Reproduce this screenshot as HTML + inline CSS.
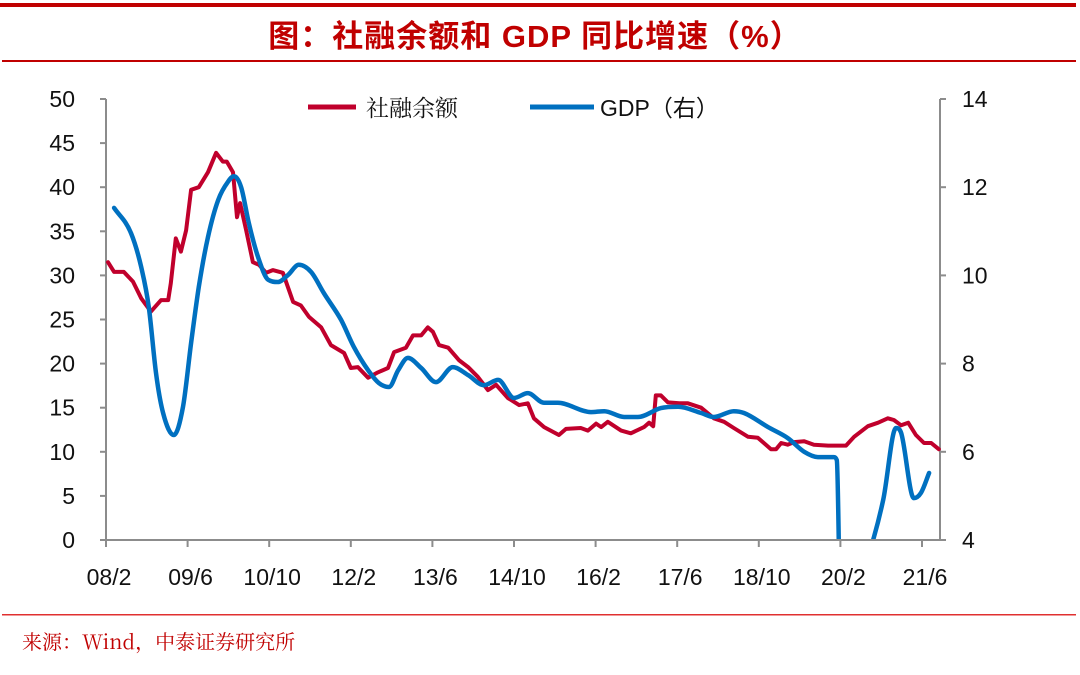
<!DOCTYPE html>
<html><head><meta charset="utf-8">
<style>
html,body{margin:0;padding:0;background:#fff;}
body{width:1080px;height:670px;overflow:hidden;position:relative;font-family:"Liberation Sans","Noto Sans CJK SC",sans-serif;}
</style></head>
<body>
<svg id="chart" width="1080" height="670" xmlns="http://www.w3.org/2000/svg">
<defs><clipPath id="plotclip"><rect x="106" y="89" width="834" height="450"/></clipPath></defs>
<rect x="0" y="3" width="1076" height="4" fill="#c00000"/>
<rect x="2" y="60" width="1074" height="2" fill="#c00000"/>
<text x="535" y="47" text-anchor="middle" font-size="31" font-weight="bold" fill="#c00000" letter-spacing="1" font-family="'Liberation Sans','Noto Sans CJK SC',sans-serif">图：社融余额和 GDP 同比增速（%）</text>
<rect x="2" y="614" width="1074" height="1.5" fill="#e03030"/>
<text x="22" y="649" font-size="20" fill="#c00000" font-family="'Noto Serif CJK SC',serif">来源：Wind，中泰证券研究所</text>
<g id="axes"></g>
<g id="series"></g>
<g>
<line x1="308" y1="107" x2="356" y2="107" stroke="#c0002c" stroke-width="5"/>
<text x="366" y="116" font-size="23" fill="#111" font-family="'Liberation Serif','Noto Serif CJK SC',serif">社融余额</text>
<line x1="530" y1="107" x2="594" y2="107" stroke="#0070c0" stroke-width="5"/>
<text x="600" y="116" font-size="23" fill="#111">GDP（右）</text>
</g>
</svg>
<script>
// months since 2008-02
const tsfMonths=[0.2,1.4,3.3,5.1,6.7,8.6,10.6,12.0,12.5,13.5,14.5,15.5,16.5,18.0,19.8,21.4,22.7,23.5,24.7,25.5,26.1,27.3,28.6,29.8,31.2,32.5,34.5,36.5,38.0,39.6,42.0,43.9,46.5,47.8,49.2,51.2,53.1,55.1,56.3,58.6,60.0,61.6,62.9,63.9,65.1,66.9,69.0,70.8,72.7,74.7,76.3,78.6,80.8,82.5,83.7,85.7,88.6,90.0,92.9,94.3,95.9,96.9,98.2,100.8,102.7,105.3,106.3,107.1,107.6,108.6,110.0,112.2,113.9,116.5,119.0,121.0,122.9,125.7,127.6,130.2,131.2,132.2,133.5,134.7,136.7,138.6,141.4,144.9,146.5,149.2,151.2,153.1,154.3,155.7,157.1,158.6,160.2,161.6,163.1];
const tsfValues=[31.5,30.4,30.4,29.3,27.4,25.9,27.2,27.2,29.1,34.2,32.7,35.1,39.7,40.0,41.7,43.9,42.9,42.9,41.7,36.6,38.2,35.1,31.5,31.2,30.3,30.6,30.3,27.0,26.6,25.3,24.1,22.1,21.2,19.5,19.6,18.4,19.0,19.5,21.3,21.8,23.2,23.2,24.1,23.6,22.1,21.8,20.4,19.6,18.5,17.0,17.6,16.1,15.3,15.5,13.8,12.8,11.9,12.6,12.7,12.4,13.2,12.8,13.4,12.4,12.1,12.8,13.3,12.9,16.4,16.4,15.6,15.5,15.5,15.0,13.8,13.4,12.7,11.7,11.6,10.3,10.3,11.0,10.8,11.1,11.2,10.8,10.7,10.7,11.7,12.9,13.3,13.8,13.6,13.0,13.3,11.9,11.0,11.0,10.3];
const gdpMonths=[1.4,4.7,6.7,8.2,9.6,11.0,13.1,14.9,16.5,18.0,19.8,21.8,23.7,24.9,26.3,27.8,29.6,31.6,33.5,35.5,37.6,40.0,42.5,45.9,48.4,51.2,53.3,55.3,57.1,59.0,61.6,64.5,67.8,70.8,73.9,76.7,79.8,82.5,85.7,88.4,94.9,97.5,101.4,104.1,108.6,112.0,116.5,119.0,122.9,124.9,129.6,133.5,136.7,139.4,142.5,143.1,143.9,148.6,152.2,154.7,155.7,158.2,159.6,161.2];
const gdpValues=[11.53,10.96,10.19,9.28,7.79,6.88,6.38,7.02,8.47,9.74,10.87,11.71,12.12,12.25,12.0,11.19,10.42,9.90,9.85,10.01,10.24,10.08,9.60,8.99,8.38,7.85,7.56,7.47,7.85,8.13,7.90,7.58,7.92,7.74,7.51,7.63,7.22,7.33,7.11,7.11,6.90,6.92,6.79,6.79,6.99,7.02,6.88,6.79,6.92,6.88,6.56,6.31,6.0,5.88,5.88,5.81,2.0,3.4,4.91,6.54,6.43,4.95,5.07,5.52];
const xTickLabels=["08/2","09/6","10/10","12/2","13/6","14/10","16/2","17/6","18/10","20/2","21/6"];
const xTickMonths=[0,16,32,48,64,80,96,112,128,144,160];
const leftTicks=[0,5,10,15,20,25,30,35,40,45,50];
const rightTicks=[4,6,8,10,12,14];

const NS="http://www.w3.org/2000/svg";
const L=106,R=940,T=99,B=540;
const xS=m=>L+1+m*5.1;
const yL=v=>B-(v/50)*(B-T);
const yR=v=>B-((v-4)/10)*(B-T);
function mk(tag,attrs,parent){const e=document.createElementNS(NS,tag);for(const k in attrs)e.setAttribute(k,attrs[k]);parent.appendChild(e);return e;}
function monotone(p){const n=p.length,d=[],m=[];
 for(let i=0;i<n-1;i++)d.push((p[i+1][1]-p[i][1])/(p[i+1][0]-p[i][0]));
 m[0]=d[0];m[n-1]=d[n-2];
 for(let i=1;i<n-1;i++){m[i]=(d[i-1]*d[i]<=0)?0:(d[i-1]+d[i])/2;}
 for(let i=0;i<n-1;i++){if(d[i]===0){m[i]=0;m[i+1]=0;continue;}
  const a=m[i]/d[i],b=m[i+1]/d[i],s=a*a+b*b;
  if(s>9){const t=3/Math.sqrt(s);m[i]=t*a*d[i];m[i+1]=t*b*d[i];}}
 let s='M'+p[0][0].toFixed(1)+','+p[0][1].toFixed(1);
 for(let i=0;i<n-1;i++){const h=(p[i+1][0]-p[i][0])/3;
  s+='C'+(p[i][0]+h).toFixed(1)+','+(p[i][1]+m[i]*h).toFixed(1)+' '+(p[i+1][0]-h).toFixed(1)+','+(p[i+1][1]-m[i+1]*h).toFixed(1)+' '+p[i+1][0].toFixed(1)+','+p[i+1][1].toFixed(1);}
 return s;}
const ax=document.getElementById('axes');
let e;
e=mk('line',{x1:L,y1:T,x2:L,y2:B,stroke:'#8c8c8c','stroke-width':2},ax);


e=mk('line',{x1:R,y1:T,x2:R,y2:B,stroke:'#8c8c8c','stroke-width':2},ax);


e=mk('line',{x1:L,y1:B,x2:R,y2:B,stroke:'#8c8c8c','stroke-width':2},ax);


leftTicks.forEach(v=>{const y=yL(v);
 e=mk('line',{x1:L-6,y1:y,x2:L,y2:y,stroke:'#8c8c8c','stroke-width':2},ax);
 
 
 e=mk('text',{x:75,y:y+8,'text-anchor':'end','font-size':23,fill:'#111'},ax);e.textContent=v;
 
 });
rightTicks.forEach(v=>{const y=yR(v);
 e=mk('line',{x1:R,y1:y,x2:R+6,y2:y,stroke:'#8c8c8c','stroke-width':2},ax);
 
 
 e=mk('text',{x:962,y:y+8,'font-size':23,fill:'#111'},ax);e.textContent=v;
 
 });
xTickMonths.forEach((m,i)=>{const x=xS(m)-1;
 e=mk('line',{x1:x,y1:B,x2:x,y2:B+7,stroke:'#8c8c8c','stroke-width':2},ax);
 
 
 e=mk('text',{x:x+3,y:585,'text-anchor':'middle','font-size':23,fill:'#111'},ax);e.textContent=xTickLabels[i];
 
 });
const sg=document.getElementById('series');
const tsfPts=tsfMonths.map((m,i)=>xS(m).toFixed(1)+','+yL(tsfValues[i]).toFixed(1)).join(' ');
e=mk('polyline',{points:tsfPts,fill:'none',stroke:'#c0002c','stroke-width':4,'stroke-linejoin':'round','stroke-linecap':'round'},sg);


const gdpPts=gdpMonths.map((m,i)=>[xS(m),yR(gdpValues[i])]);
e=mk('path',{d:monotone(gdpPts),fill:'none',stroke:'#0070c0','stroke-width':4.5,'stroke-linejoin':'round','stroke-linecap':'round','clip-path':'url(#plotclip)'},sg);


</script>
</body></html>
